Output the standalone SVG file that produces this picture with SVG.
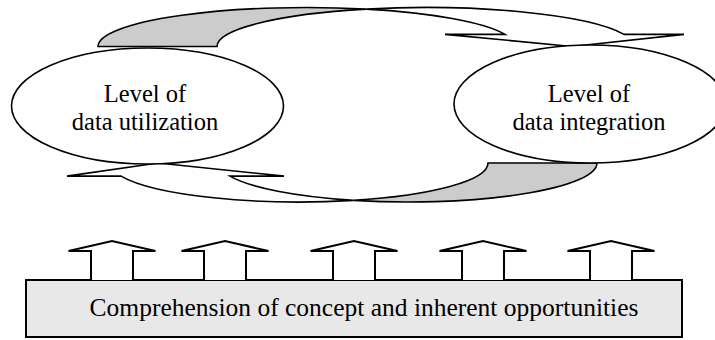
<svg xmlns="http://www.w3.org/2000/svg" width="715" height="340" viewBox="0 0 715 340">
<style>
.ln{stroke:#000;stroke-width:1.6;stroke-linejoin:miter;fill:#fff}
.back{stroke:#000;stroke-width:1.6;fill:#cccccc}
.node{stroke:#000;stroke-width:1.6;fill:#fff}
.box{stroke:#000;stroke-width:2;fill:#e8e8e8}
.up{stroke:#000;stroke-width:2;fill:#fff}
.t{font-family:"Liberation Serif","Times New Roman",serif;font-size:25.5px;fill:#000;text-anchor:middle}
.t2{font-size:24.5px}
</style>
<rect width="715" height="340" fill="#fff"/>
<g id="connectors">
  <g id="cycle-top">
    <path class="back" d="M98,46.5 A208.7,39 0 0 1 366.2,9.12 A208.7,39 0 0 0 217,46.5 Z"/>
    <path class="ln" d="M366.2,9.12 A208.7,39 0 0 1 624,34.35 L684,34.35 L572,46.5 L445,34.35 L505,34.35 A208.7,39 0 0 0 366.2,9.12 Z"/>
  </g>
  <g id="cycle-bottom">
    <path class="back" d="M597,163 A189,39 0 0 1 353.5,200.34 A189,39 0 0 0 488,163 Z"/>
    <path class="ln" d="M353.5,200.34 A189,39 0 0 1 230,176.11 L284,176.11 L158,163 L67,176.11 L121,176.11 A189,39 0 0 0 353.5,200.34 Z"/>
  </g>
</g>
<g id="node-utilization">
  <ellipse class="node" cx="147.5" cy="106" rx="136" ry="58"/>
  <text class="t t2" x="145" y="102">Level of</text>
  <text class="t t2" x="145" y="129.5">data utilization</text>
</g>
<g id="node-integration">
  <ellipse class="node" cx="590" cy="104" rx="136" ry="59"/>
  <text class="t t2" x="589" y="102">Level of</text>
  <text class="t t2" x="589" y="129.5">data integration</text>
</g>
<g id="node-comprehension">
  <rect class="box" x="26" y="280" width="656" height="57"/>
  <text class="t" x="364" y="316">Comprehension of concept and inherent opportunities</text>
</g>
<g id="connectors-up">
  <path class="up" d="M91,280 V251 H68.5 L112,241 L155.5,251 H133 V280"/>
  <path class="up" d="M204,280 V251 H181.5 L225,241 L268.5,251 H246 V280"/>
  <path class="up" d="M333,280 V251 H310.5 L354,241 L397.5,251 H375 V280"/>
  <path class="up" d="M462,280 V251 H439.5 L483,241 L526.5,251 H504 V280"/>
  <path class="up" d="M590,280 V251 H567.5 L611,241 L654.5,251 H632 V280"/>
</g>
</svg>
